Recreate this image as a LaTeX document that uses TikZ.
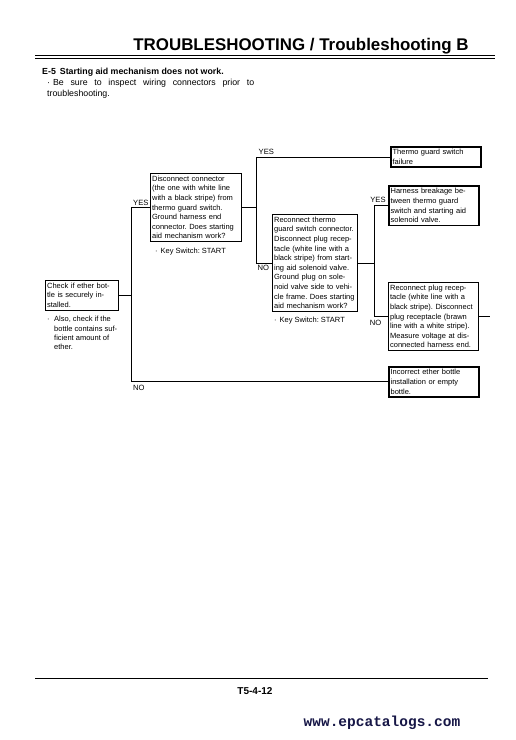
\documentclass[tikz,border=0pt]{standalone}
\usepackage{fontspec}
\setmainfont{Liberation Sans}
\newfontfamily\monofam{Liberation Mono}
\definecolor{urlblue}{RGB}{22,22,70}
\begin{document}
\hyphenpenalty=10000 \exhyphenpenalty=10000 \frenchspacing
\begin{tikzpicture}[x=1pt,y=-1pt,
  box/.style={draw, line width=0.7pt, inner xsep=1.8pt, inner ysep=2.6pt, anchor=north west, align=left, font=\fontsize{7.5}{9.6}\selectfont},
  endbox/.style={box, line width=1.7pt},
  wire/.style={line width=0.7pt},
  lbl/.style={font=\fontsize{7.6}{9}\selectfont, inner sep=0.5pt},
  note/.style={anchor=north west, align=left, font=\fontsize{7.5}{9.4}\selectfont, inner sep=0pt}]
\useasboundingbox (0,0) rectangle (515,740);
\fill[white] (0,0) rectangle (515,740);

% header
\node[font=\fontsize{16.9}{18}\selectfont\bfseries, inner sep=0pt] (title) at (301,46) {TROUBLESHOOTING / Troubleshooting B};
\draw[line width=1.3pt] (35,55.5) -- (495,55.5);
\draw[line width=0.5pt] (35,58.3) -- (495,58.3);
\node[font=\fontsize{8.8}{10}\selectfont\bfseries, anchor=west, inner sep=0pt] (head) at (42,72) {E-5\hspace{4pt}Starting aid mechanism does not work.};
\node[anchor=north west, inner sep=0pt, text width=207pt, align=justify, font=\fontsize{8.8}{11}\selectfont] (intro) at (47,78.5)
  {\hangindent=8pt\hangafter=1 ·\hspace{3pt}Be sure to inspect wiring connectors prior to troubleshooting.};

% boxes
\node[box, text width=69.4pt] (b1) at (45,280) {Check if ether bot-\\tle is securely in-\\stalled.};
\node[box, text width=87.4pt] (b2) at (150,173) {Disconnect connector\\(the one with white line\\with a black stripe) from\\thermo guard switch.\\Ground harness end\\connector. Does starting\\aid mechanism work?};
\node[box, text width=81.4pt] (b3) at (272,214) {Reconnect thermo\\guard switch connector.\\Disconnect plug recep-\\tacle (white line with a\\black stripe) from start-\\ing aid solenoid valve.\\Ground plug on sole-\\noid valve side to vehi-\\cle frame. Does starting\\aid mechanism work?};
\node[box, text width=86.4pt] (b4) at (388,282) {Reconnect plug recep-\\tacle (white line with a\\black stripe). Disconnect\\plug receptacle (brawn\\line with a white stripe).\\Measure voltage at dis-\\connected harness end.};
\node[endbox, text width=86.4pt] (e1) at (390,146) {Thermo guard switch\\failure};
\node[endbox, text width=86.4pt] (e2) at (388,185) {Harness breakage be-\\tween thermo guard\\switch and starting aid\\solenoid valve.};
\node[endbox, text width=86.4pt] (e4) at (388,366) {Incorrect ether bottle\\installation or empty\\bottle.};

% notes
\node[note] (n1) at (47,316) {\makebox[7pt][l]{·}Also, check if the\\\hspace*{7pt}bottle contains suf-\\\hspace*{7pt}ficient amount of\\\hspace*{7pt}ether.};
\node[note] (n2) at (155,247.5) {·\hspace{3pt}Key Switch: START};
\node[note] (n3) at (274,316.5) {·\hspace{3pt}Key Switch: START};

% junctions
\coordinate (j1) at (131,0);
\coordinate (j2) at (256,0);
\coordinate (j3) at (374,0);
\coordinate (tail) at (490,0);

% connectors
\draw[wire] (b1.east) -- (b1.east -| j1);
\draw[wire] (b2.west) -- (b2.west -| j1) -- (e4.west -| j1) -- (e4.west);
\draw[wire] (b2.east) -- (b2.east -| j2);
\draw[wire] (e1.west) -- (e1.west -| j2) -- (b3.west -| j2) -- (b3.west);
\draw[wire] (b3.east) -- (b3.east -| j3);
\draw[wire] (e2.west) -- (e2.west -| j3) -- (b4.west -| j3) -- (b4.west);
\draw[wire] (b4.east) -- (b4.east -| tail);

% labels (yshift is in canvas units: positive = up)
\node[lbl, anchor=south west] (y1) at ([xshift=1.5pt,yshift=1.5pt]b2.west -| j1) {YES};
\node[lbl, anchor=north west] (no1) at ([xshift=1.5pt,yshift=-3pt]e4.west -| j1) {NO};
\node[lbl, anchor=south west] (y2) at ([xshift=2pt,yshift=2pt]e1.west -| j2) {YES};
\node[lbl, anchor=north west] (no2) at ([xshift=1pt,yshift=-1.5pt]b3.west -| j2) {NO};
\node[lbl, anchor=south] (y3) at ([xshift=4pt,yshift=2pt]e2.west -| j3) {YES};
\node[lbl, anchor=north] (no3) at ([xshift=1.5pt,yshift=-2.5pt]b4.west -| j3) {NO};

% footer
\draw[line width=0.8pt] (35,678) -- (488,678);
\node[font=\fontsize{10}{12}\selectfont\bfseries, inner sep=0pt] (page) at (255,691) {T5-4-12};
\node[font=\fontsize{14.5}{16}\monofam\bfseries, text=urlblue, inner sep=0pt] (url) at (382,723) {www.epcatalogs.com};
\end{tikzpicture}
\end{document}
